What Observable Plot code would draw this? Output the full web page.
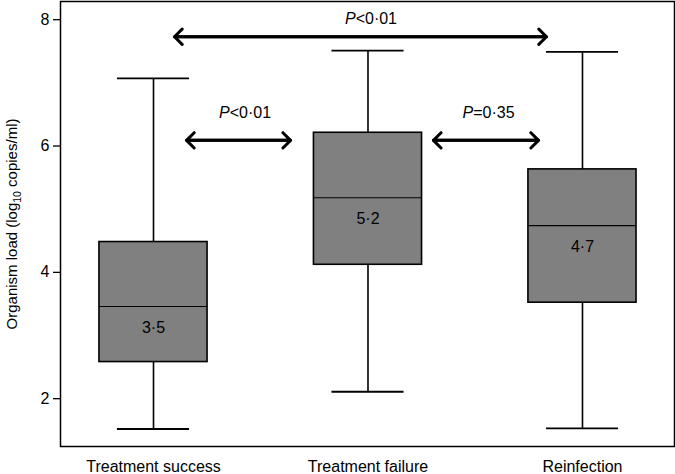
<!DOCTYPE html>
<html>
<head>
<meta charset="utf-8">
<script src="https://cdn.jsdelivr.net/npm/d3@7"></script>
<script src="https://cdn.jsdelivr.net/npm/@observablehq/plot@0.6"></script>
<style>
  html, body { margin: 0; padding: 0; background: #fff; }
  #chart svg { display: block; }
</style>
</head>
<body>
<div id="chart"></div>
<script>
// Categories and box-plot statistics (log10 copies/ml)
const categories = ["Treatment success", "Treatment failure", "Reinfection"];
const whiskerLow  = [1.52, 2.11, 1.53];
const q1          = [2.58, 4.12, 3.52];
const median      = [3.46, 5.18, 4.74];
const q3          = [4.48, 6.21, 5.63];
const whiskerHigh = [7.07, 7.51, 7.49];
const medianLabels = ["3·5", "5·2", "4·7"];
const yTicks = [2, 4, 6, 8];

// Comparison annotations
const cmpFrom   = [1.098, 1.154, 2.305];
const cmpTo     = [2.832, 1.639, 2.795];
const cmpLevel  = [7.73, 6.09, 6.09];
const cmpLabel  = ["P<0·01", "P<0·01", "P=0·35"];
const cmpLabelX = [2.014, 1.427, 2.562];
const cmpLabelY = [8.02, 6.53, 6.53];

const boxes = categories.map((c, i) => ({
  pos: i + 1, name: c, lo: whiskerLow[i], q1: q1[i], med: median[i], q3: q3[i], hi: whiskerHigh[i], label: medianLabels[i]
}));
const cmps = cmpFrom.map((f, i) => ({ x1: f, x2: cmpTo[i], y: cmpLevel[i], label: cmpLabel[i], lx: cmpLabelX[i], ly: cmpLabelY[i] }));

const boxHalf = 0.252, capHalf = 0.168;

const chart = Plot.plot({
  width: 675,
  height: 474,
  marginLeft: 60,
  marginRight: 1,
  marginTop: 1,
  marginBottom: 28,
  style: { fontFamily: "'Liberation Sans', Arial, sans-serif", fontSize: "16px", color: "#000", background: "#fff" },
  x: { type: "linear", domain: [0.5664, 3.429] },
  y: { domain: [1.243, 8.288] },
  marks: [
    Plot.axisY({ ticks: yTicks, tickFormat: d3.format("d"), tickSize: 7, tickPadding: 4, fontSize: 16, label: null, strokeWidth: 1.3 }),
    Plot.axisX({ ticks: [1, 2, 3], tickFormat: d => categories[d - 1], tickSize: 0, tickPadding: 14, fontSize: 16, label: null }),
    // whiskers
    Plot.ruleX(boxes, { x: "pos", y1: "lo", y2: "q1", stroke: "#000", strokeWidth: 1.6 }),
    Plot.ruleX(boxes, { x: "pos", y1: "q3", y2: "hi", stroke: "#000", strokeWidth: 1.6 }),
    Plot.ruleY(boxes, { y: "lo", x1: d => d.pos - capHalf, x2: d => d.pos + capHalf, stroke: "#000", strokeWidth: 1.8 }),
    Plot.ruleY(boxes, { y: "hi", x1: d => d.pos - capHalf, x2: d => d.pos + capHalf, stroke: "#000", strokeWidth: 1.8 }),
    // boxes
    Plot.rect(boxes, { x1: d => d.pos - boxHalf, x2: d => d.pos + boxHalf, y1: "q1", y2: "q3", fill: "#808080", stroke: "#000", strokeWidth: 1.6 }),
    Plot.ruleY(boxes, { y: "med", x1: d => d.pos - boxHalf, x2: d => d.pos + boxHalf, stroke: "#000", strokeWidth: 1.1 }),
    Plot.text(boxes, { x: "pos", y: "med", text: "label", dy: 21, fontSize: 16, fill: "#000" }),
    // comparison arrows (double-headed)
    Plot.arrow(cmps, { x1: "x1", x2: "x2", y1: "y", y2: "y", stroke: "#000", strokeWidth: 3, headAngle: 90, headLength: 5.4 }),
    Plot.arrow(cmps, { x1: "x2", x2: "x1", y1: "y", y2: "y", stroke: "#000", strokeWidth: 3, headAngle: 90, headLength: 5.4 }),
    Plot.text(cmps, { x: "lx", y: "ly", text: "label", fontSize: 16, fill: "#000" }),
    // y-axis title
    Plot.text(["Organism load (log10 copies/ml)"], { frameAnchor: "left", rotate: -90, dx: -48, text: d => d, fontSize: 15, fill: "#000", textAnchor: "middle" }),
    Plot.frame({ stroke: "#000", strokeWidth: 1.5 })
  ]
});

document.getElementById("chart").appendChild(chart);

// Rich text: subscript and italic P
d3.select(chart).selectAll("text").each(function () {
  const t = this.textContent;
  const sel = d3.select(this);
  if (t === "Organism load (log10 copies/ml)") {
    sel.text(null);
    sel.append("tspan").text("Organism load (log");
    sel.append("tspan").attr("dy", 4).attr("font-size", 10.5).text("10");
    sel.append("tspan").attr("dy", -4).text(" copies/ml)");
  } else if (/^P[<=]/.test(t)) {
    sel.text(null);
    sel.append("tspan").attr("font-style", "italic").text("P");
    sel.append("tspan").text(t.slice(1));
  }
});
</script>
</body>
</html>
